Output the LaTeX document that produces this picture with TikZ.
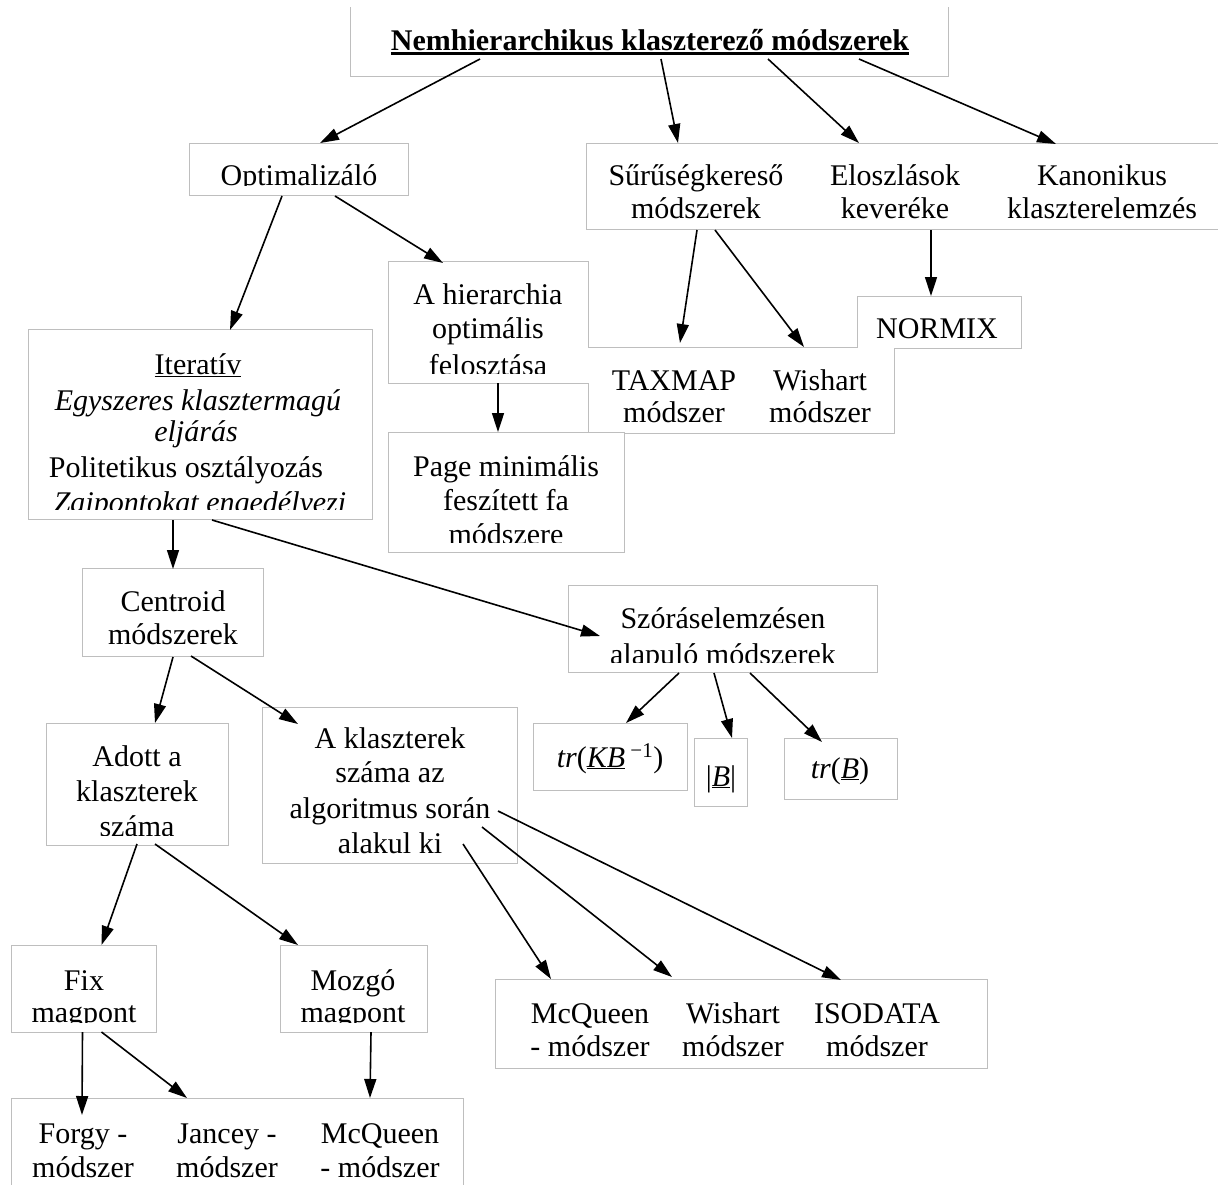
\documentclass[tikz,border=0pt]{standalone}
\usepackage{fontspec}
\setmainfont{Liberation Serif}
\usetikzlibrary{arrows.meta,calc}
\definecolor{boxgray}{RGB}{190,190,190}

% rectangle node given by its corners: name, left, top, right, bottom, style
\newcommand\boxat[6]{%
  \node[boxshape,#6,minimum width={(#4-#2)*1pt},minimum height={(#5-#3)*1pt}]
    (#1) at ({(#2+#4)/2},{(#3+#5)/2}) {};}
% one line of text, placed on its baseline
\newcommand\txtat[4]{\node[tx] (#1) at (#2,#3) {#4};}
% text inside a box is cut a little above the lower border
\newcommand\clipin[1]{\clip (#1.north west) rectangle ($(#1.south east)+(0,-10)$);}

\begin{document}
\begin{tikzpicture}[x=1pt,y=-1pt,
  tx/.style={inner sep=0pt,outer sep=0pt,anchor=base,font=\fontsize{30}{34}\selectfont},
  boxshape/.style={rectangle,inner sep=0pt,outer sep=0pt},
  boxline/.style={draw=boxgray,line width=1pt},
  arr/.style={draw=black,line width=1.6pt,-{Triangle[length=19pt,width=12pt]}},
]
\useasboundingbox (0,0) rectangle (1218,1184);

% ---------- boxes ----------
\boxat{titlebox}{350}{7}{948}{76}{}
\boxat{optbox}{189}{143}{408}{195}{boxline}
\boxat{toprbox}{586}{143}{1224}{229}{boxline}
\boxat{hierbox}{388}{261}{588}{383}{}
\boxat{taxbox}{588}{347}{894}{433}{}
\boxat{normbox}{857}{296}{1021}{348}{}
\boxat{pagebox}{388}{432}{624}{552}{boxline}
\boxat{iterbox}{28}{329}{372}{519}{boxline}
\boxat{centbox}{82}{568}{263}{656}{boxline}
\boxat{szorbox}{568}{585}{877}{672}{boxline}
\boxat{trkbbox}{533}{723}{687}{790}{boxline}
\boxat{detbox}{694}{738}{747}{806}{boxline}
\boxat{trbbox}{784}{738}{897}{799}{boxline}
\boxat{adottbox}{46}{723}{228}{845}{boxline}
\boxat{aklbox}{262}{707}{517}{863}{boxline}
\boxat{fixbox}{11}{945}{156}{1032}{boxline}
\boxat{mozgbox}{280}{945}{427}{1032}{boxline}
\boxat{botlbox}{11}{1098}{463}{1187}{boxline}
\boxat{botrbox}{495}{979}{987}{1068}{boxline}

% open frame of the title
\draw[boxline] (titlebox.north west) -- (titlebox.south west)
  -- (titlebox.south east) -- (titlebox.north east);
% overlapping frames around the hierarchy, TAXMAP and NORMIX texts
\draw[boxline] (hierbox.south east) -- (hierbox.south west) -- (hierbox.north west)
  -- (hierbox.north east) -- (taxbox.north west)
  -- (taxbox.north west -| normbox.south west) -- (normbox.north west)
  -- (normbox.north east) -- (normbox.south east)
  -- (normbox.south east -| taxbox.east) -- (taxbox.south east)
  -- (taxbox.south east -| pagebox.east);
\draw[boxline] (hierbox.south east) -- (hierbox.south east |- pagebox.north);

% ---------- texts ----------
\node[tx,font=\fontsize{30}{34}\selectfont\bfseries] (title) at (650,50)
  {Nemhierarchikus klaszterező módszerek};
\draw[line width=2.6pt] ($(title.base west)+(0,3.5)$) -- ($(title.base east)+(0,3.5)$);

\begin{scope}\clipin{optbox}
  \txtat{opt}{299}{185}{Optimalizáló}
\end{scope}

\begin{scope}\clipin{toprbox}
  \txtat{sur1}{696}{185}{Sűrűségkereső}
  \txtat{sur2}{696}{218}{módszerek}
  \txtat{elo1}{895}{185}{Eloszlások}
  \txtat{elo2}{895}{218}{keveréke}
  \txtat{kan1}{1102}{185}{Kanonikus}
  \txtat{kan2}{1102}{218}{klaszterelemzés}
\end{scope}

\begin{scope}\clipin{hierbox}
  \txtat{hier1}{488}{304}{A hierarchia}
  \txtat{hier2}{488}{338}{optimális}
  \txtat{hier3}{488}{375.5}{felosztása}
\end{scope}

\begin{scope}\clipin{taxbox}
  \txtat{tax1}{674}{390}{TAXMAP}
  \txtat{tax2}{674}{422}{módszer}
  \txtat{wis1}{820}{390}{Wishart}
  \txtat{wis2}{820}{422}{módszer}
\end{scope}

\txtat{norm}{937}{338}{NORMIX}

\begin{scope}\clipin{pagebox}
  \txtat{page1}{506}{476}{Page minimális}
  \txtat{page2}{506}{510}{feszített fa}
  \txtat{page3}{506}{544}{módszere}
\end{scope}

\begin{scope}\clipin{iterbox}
  \txtat{iter1}{198}{374}{\underline{Iteratív}}
  \txtat{iter2}{198}{410}{\itshape Egyszeres klasztermagú}
  \txtat{iter3}{196}{441}{\itshape eljárás}
  \txtat{iter4}{186}{477}{Politetikus osztályozás}
  \txtat{iter5}{200}{512}{\itshape Zajpontokat engedélyezi}
\end{scope}

\begin{scope}\clipin{centbox}
  \txtat{cent1}{173}{611}{Centroid}
  \txtat{cent2}{173}{644}{módszerek}
\end{scope}

\begin{scope}\clipin{szorbox}
  \txtat{szor1}{723}{628}{Szóráselemzésen}
  \txtat{szor2}{723}{664}{alapuló módszerek}
\end{scope}

\txtat{trkb}{610}{767}{\textit{tr}(\underline{\textit{KB}}\textsuperscript{ −1})}
\txtat{det}{721}{786}{|\underline{\textit{B}}|}
\txtat{trb}{840}{778}{\textit{tr}(\underline{\textit{B}})}

\begin{scope}\clipin{adottbox}
  \txtat{adott1}{137}{766}{Adott a}
  \txtat{adott2}{137}{801}{klaszterek}
  \txtat{adott3}{137}{836}{száma}
\end{scope}

\begin{scope}\clipin{aklbox}
  \txtat{akl1}{390}{748}{A klaszterek}
  \txtat{akl2}{390}{782}{száma az}
  \txtat{akl3}{390}{818}{algoritmus során}
  \txtat{akl4}{390}{853}{alakul ki}
\end{scope}

\begin{scope}\clipin{fixbox}
  \txtat{fix1}{84}{990}{Fix}
  \txtat{fix2}{84}{1022}{magpont}
\end{scope}

\begin{scope}\clipin{mozgbox}
  \txtat{mozg1}{353}{990}{Mozgó}
  \txtat{mozg2}{353}{1022}{magpont}
\end{scope}

\begin{scope}\clipin{botlbox}
  \txtat{forgy1}{83}{1143}{Forgy -}
  \txtat{forgy2}{83}{1177}{módszer}
  \txtat{jan1}{227}{1143}{Jancey -}
  \txtat{jan2}{227}{1177}{módszer}
  \txtat{mcq1}{380}{1143}{McQueen}
  \txtat{mcq2}{380}{1177}{- módszer}
\end{scope}

\begin{scope}\clipin{botrbox}
  \txtat{mcqb1}{590}{1023}{McQueen}
  \txtat{mcqb2}{590}{1056}{- módszer}
  \txtat{wisb1}{733}{1023}{Wishart}
  \txtat{wisb2}{733}{1056}{módszer}
  \txtat{iso1}{877}{1023}{ISODATA}
  \txtat{iso2}{877}{1056}{módszer}
\end{scope}

% ---------- connectors ----------
\draw[arr] ($(titlebox.south)+(-169,-17)$) -- ($(optbox.north)+(21.5,0)$);
\draw[arr] ($(titlebox.south)+(12,-17)$) -- ($(toprbox.north west)+(92,0)$);
\draw[arr] ($(titlebox.south)+(119,-17)$) -- ($(toprbox.north west)+(273,0)$);
\draw[arr] ($(titlebox.south)+(210,-17)$) -- ($(toprbox.north west)+(470,1)$);

\draw[arr] ($(optbox.south)+(-16.5,1)$) -- ($(iterbox.north)+(30,1)$);
\draw[arr] ($(optbox.south)+(36.5,1)$) -- ($(hierbox.north)+(-45,2)$);

\draw[arr] ($(toprbox.south west)+(111,1)$) -- ($(taxbox.north west)+(92,-4)$);
\draw[arr] ($(toprbox.south west)+(129,1)$) -- ($(taxbox.north west)+(216,0)$);
\draw[arr] ($(toprbox.south west)+(345,1)$) -- ($(normbox.north west)+(74,0)$);

\draw[arr] ($(hierbox.south)+(10,0)$) -- ($(pagebox.north)+(-8,0)$);

\draw[arr] ($(iterbox.south)+(-27,1)$) -- ($(centbox.north)+(0.5,1)$);
\draw[arr] ($(iterbox.south)+(12,1)$) -- ($(szorbox.north west)+(32,51)$);

\draw[arr] ($(centbox.south)+(0.5,1)$) -- ($(adottbox.north)+(18,0)$);
\draw[arr] ($(centbox.south)+(18.5,0)$) -- ($(aklbox.north west)+(36,17)$);

\draw[arr] ($(aklbox.south)+(73.5,-19)$) -- ($(botrbox.north west)+(56,0)$);
\draw[arr] ($(aklbox.south east)+(-35,-36)$) -- ($(botrbox.north west)+(177,-2)$);
\draw[arr] ($(aklbox.south east)+(-19,-52)$) -- ($(botrbox.north west)+(346,1)$);

\draw[arr] ($(szorbox.south west)+(111,1)$) -- ($(trkbbox.north west)+(93,0)$);
\draw[arr] ($(szorbox.south west)+(146,1)$) -- ($(detbox.north west)+(38,0)$);
\draw[arr] ($(szorbox.south west)+(182,1)$) -- ($(trbbox.north west)+(38,4)$);

\draw[arr] ($(adottbox.south)+(0,-1)$) -- ($(fixbox.north)+(18,0)$);
\draw[arr] ($(adottbox.south)+(18,-1)$) -- ($(mozgbox.north)+(-55.5,0)$);

\draw[arr] ($(fixbox.south)+(-1,0)$) -- ($(botlbox.north west)+(71,17)$);
\draw[arr] ($(fixbox.south)+(18,0)$) -- ($(botlbox.north west)+(176,0)$);
\draw[arr] ($(mozgbox.south)+(17.5,0)$) -- ($(botlbox.north west)+(359,0)$);
\end{tikzpicture}
\end{document}
